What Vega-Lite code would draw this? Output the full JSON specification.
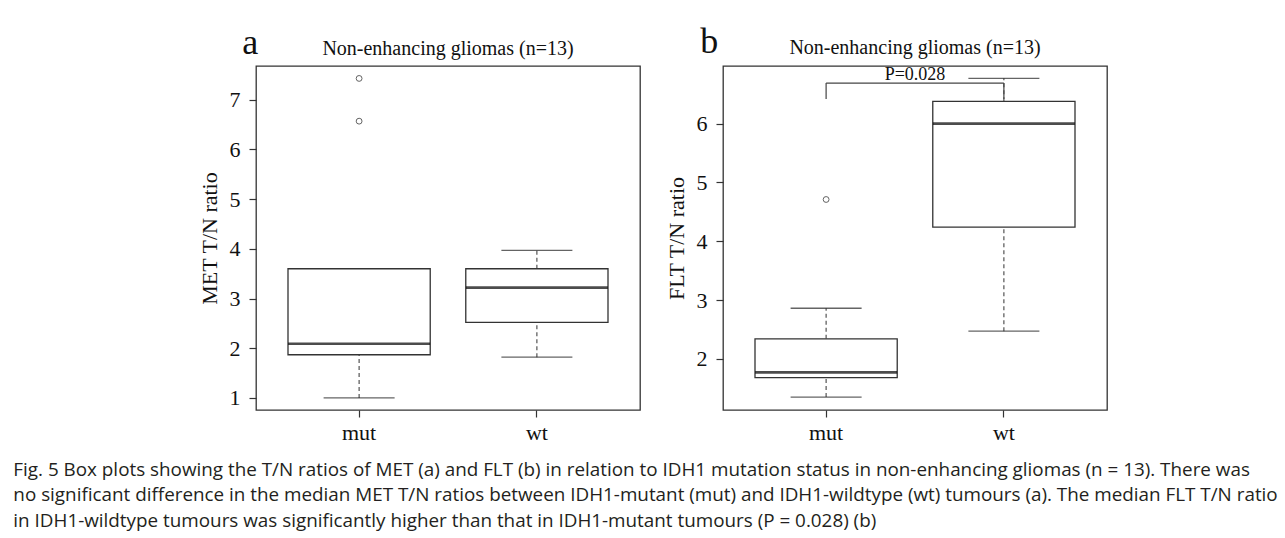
{
  "$schema": "https://vega.github.io/schema/vega-lite/v6.json",
  "background": "white",
  "padding": {"left": 13, "top": 23, "right": 0, "bottom": 12},
  "autosize": {"type": "pad"},
  "config": {
    "view": {"stroke": "#333", "strokeWidth": 1.3, "fill": "white"},
    "font": "Liberation Serif",
    "axis": {"domain": false, "grid": false, "tickColor": "#333", "tickSize": 7, "tickWidth": 1.2, "labelFont": "Liberation Serif", "labelFontSize": 22, "labelColor": "#111", "titleFont": "Liberation Serif", "titleFontSize": 22, "titleFontWeight": "normal", "titleColor": "#111", "labelPadding": 9, "titlePadding": 8},
    "title": {"font": "Liberation Serif", "fontSize": 20, "fontWeight": "normal", "color": "#111"}
  },
  "title": {
    "text": [
      "Fig. 5 Box plots showing the T/N ratios of MET (a) and FLT (b) in relation to IDH1 mutation status in non-enhancing gliomas (n = 13). There was",
      "no significant difference in the median MET T/N ratios between IDH1-mutant (mut) and IDH1-wildtype (wt) tumours (a). The median FLT T/N ratio",
      "in IDH1-wildtype tumours was significantly higher than that in IDH1-mutant tumours (P = 0.028) (b)"
    ],
    "orient": "bottom", "anchor": "start", "font": "Open Sans", "fontSize": 18.85, "fontWeight": "normal", "lineHeight": 25.5, "dx": -184, "offset": 17, "color": "#231f20"
  },
  "datasets": {
    "boxA": [
      {"grp": "mut", "lower": 1.0, "q1": 1.87, "median": 2.09, "q3": 3.6, "upper": 3.6},
      {"grp": "wt", "lower": 1.82, "q1": 2.52, "median": 3.22, "q3": 3.6, "upper": 3.97}
    ],
    "outA": [
      {"grp": "mut", "v": 7.43},
      {"grp": "mut", "v": 6.57}
    ],
    "boxB": [
      {"grp": "mut", "lower": 1.35, "q1": 1.68, "median": 1.77, "q3": 2.34, "upper": 2.86},
      {"grp": "wt", "lower": 2.47, "q1": 4.24, "median": 6.0, "q3": 6.38, "upper": 6.77}
    ],
    "outB": [
      {"grp": "mut", "v": 4.71}
    ],
    "bracket": [
      {"grp": "mut", "grp2": "wt", "lo": 6.42, "hi": 6.69}
    ],
    "pval": [
      {"grp": "wt", "y": 6.75, "label": "P=0.028"}
    ],
    "headA": [
      {"panel": "a", "title": "Non-enhancing gliomas (n=13)"}
    ],
    "headB": [
      {"panel": "b", "title": "Non-enhancing gliomas (n=13)"}
    ]
  },
  "spacing": 23,
  "hconcat": [
    {
      "width": 384, "height": 344,
      "encoding": {
        "x": {"field": "grp", "type": "nominal", "title": null, "scale": {"domain": ["mut", "wt"], "paddingInner": 0, "paddingOuter": 0.08}, "axis": {"labelAngle": 0, "labelPadding": 5}}
      },
      "layer": [
        {"data": {"name": "boxA"}, "mark": {"type": "rule", "strokeDash": [4, 3], "color": "#444", "strokeWidth": 1.1},
         "encoding": {"y": {"field": "lower", "type": "quantitative", "title": "MET T/N ratio", "scale": {"domain": [0.758, 7.68], "nice": false, "zero": false}, "axis": {"values": [1, 2, 3, 4, 5, 6, 7], "format": "d"}}, "y2": {"field": "q1"}}},
        {"data": {"name": "boxA"}, "mark": {"type": "rule", "strokeDash": [4, 3], "color": "#444", "strokeWidth": 1.1},
         "encoding": {"y": {"field": "q3", "type": "quantitative", "title": "MET T/N ratio"}, "y2": {"field": "upper"}}},
        {"data": {"name": "boxA"}, "mark": {"type": "tick", "size": 71, "thickness": 1.3, "color": "#222"},
         "encoding": {"y": {"field": "lower", "type": "quantitative", "title": "MET T/N ratio"}}},
        {"data": {"name": "boxA"}, "mark": {"type": "tick", "size": 71, "thickness": 1.3, "color": "#222"},
         "encoding": {"y": {"field": "upper", "type": "quantitative", "title": "MET T/N ratio"}}},
        {"data": {"name": "boxA"}, "mark": {"type": "bar", "width": {"band": 0.8}, "fill": "white", "stroke": "#333", "strokeWidth": 1.3},
         "encoding": {"y": {"field": "q1", "type": "quantitative", "title": "MET T/N ratio"}, "y2": {"field": "q3"}}},
        {"data": {"name": "boxA"}, "mark": {"type": "tick", "size": 142, "thickness": 2.6, "color": "#000"},
         "encoding": {"y": {"field": "median", "type": "quantitative", "title": "MET T/N ratio"}}},
        {"data": {"name": "outA"}, "mark": {"type": "point", "shape": "circle", "filled": false, "size": 34, "stroke": "#222", "strokeWidth": 1},
         "encoding": {"y": {"field": "v", "type": "quantitative", "title": "MET T/N ratio"}}},
        {"data": {"name": "headA"}, "mark": {"type": "text", "font": "Liberation Serif", "fontSize": 36, "align": "center", "baseline": "alphabetic", "dx": -20, "color": "#111", "clip": false},
         "encoding": {"x": {"datum": "mut", "bandPosition": 0}, "y": {"datum": 7.93, "type": "quantitative"}, "text": {"field": "panel"}}},
        {"data": {"name": "headA"}, "mark": {"type": "text", "font": "Liberation Serif", "fontSize": 20, "align": "center", "baseline": "alphabetic", "color": "#111", "clip": false},
         "encoding": {"x": {"datum": "wt", "bandPosition": 0}, "y": {"datum": 7.91, "type": "quantitative"}, "text": {"field": "title"}}}
      ]
    },
    {
      "width": 384, "height": 344,
      "encoding": {
        "x": {"field": "grp", "type": "nominal", "title": null, "scale": {"domain": ["mut", "wt"], "paddingInner": 0, "paddingOuter": 0.08}, "axis": {"labelAngle": 0, "labelPadding": 5}}
      },
      "layer": [
        {"data": {"name": "boxB"}, "mark": {"type": "rule", "strokeDash": [4, 3], "color": "#444", "strokeWidth": 1.1},
         "encoding": {"y": {"field": "lower", "type": "quantitative", "title": "FLT T/N ratio", "scale": {"domain": [1.13, 6.98], "nice": false, "zero": false}, "axis": {"values": [2, 3, 4, 5, 6], "format": "d"}}, "y2": {"field": "q1"}}},
        {"data": {"name": "boxB"}, "mark": {"type": "rule", "strokeDash": [4, 3], "color": "#444", "strokeWidth": 1.1},
         "encoding": {"y": {"field": "q3", "type": "quantitative", "title": "FLT T/N ratio"}, "y2": {"field": "upper"}}},
        {"data": {"name": "boxB"}, "mark": {"type": "tick", "size": 71, "thickness": 1.3, "color": "#222"},
         "encoding": {"y": {"field": "lower", "type": "quantitative", "title": "FLT T/N ratio"}}},
        {"data": {"name": "boxB"}, "mark": {"type": "tick", "size": 71, "thickness": 1.3, "color": "#222"},
         "encoding": {"y": {"field": "upper", "type": "quantitative", "title": "FLT T/N ratio"}}},
        {"data": {"name": "boxB"}, "mark": {"type": "bar", "width": {"band": 0.8}, "fill": "white", "stroke": "#333", "strokeWidth": 1.3},
         "encoding": {"y": {"field": "q1", "type": "quantitative", "title": "FLT T/N ratio"}, "y2": {"field": "q3"}}},
        {"data": {"name": "boxB"}, "mark": {"type": "tick", "size": 142, "thickness": 2.6, "color": "#000"},
         "encoding": {"y": {"field": "median", "type": "quantitative", "title": "FLT T/N ratio"}}},
        {"data": {"name": "outB"}, "mark": {"type": "point", "shape": "circle", "filled": false, "size": 34, "stroke": "#222", "strokeWidth": 1},
         "encoding": {"y": {"field": "v", "type": "quantitative", "title": "FLT T/N ratio"}}},
        {"data": {"name": "bracket"}, "mark": {"type": "rule", "color": "#444", "strokeWidth": 1.2},
         "encoding": {"x2": {"field": "grp2"}, "y": {"field": "hi", "type": "quantitative", "title": "FLT T/N ratio"}}},
        {"data": {"name": "bracket"}, "mark": {"type": "rule", "color": "#444", "strokeWidth": 1.2},
         "encoding": {"y": {"field": "lo", "type": "quantitative", "title": "FLT T/N ratio"}, "y2": {"field": "hi"}}},
        {"data": {"name": "bracket"}, "mark": {"type": "rule", "color": "#444", "strokeWidth": 1.2},
         "encoding": {"x": {"field": "grp2", "type": "nominal"}, "y": {"field": "lo", "type": "quantitative", "title": "FLT T/N ratio"}, "y2": {"field": "hi"}}},
        {"data": {"name": "pval"}, "mark": {"type": "text", "font": "Liberation Serif", "fontSize": 18, "align": "center", "baseline": "alphabetic", "color": "#111"},
         "encoding": {"x": {"field": "grp", "type": "nominal", "bandPosition": 0}, "y": {"field": "y", "type": "quantitative", "title": "FLT T/N ratio"}, "text": {"field": "label"}}},
        {"data": {"name": "headB"}, "mark": {"type": "text", "font": "Liberation Serif", "fontSize": 36, "align": "center", "baseline": "alphabetic", "dx": -28, "color": "#111", "clip": false},
         "encoding": {"x": {"datum": "mut", "bandPosition": 0}, "y": {"datum": 7.2, "type": "quantitative"}, "text": {"field": "panel"}}},
        {"data": {"name": "headB"}, "mark": {"type": "text", "font": "Liberation Serif", "fontSize": 20, "align": "center", "baseline": "alphabetic", "color": "#111", "clip": false},
         "encoding": {"x": {"datum": "wt", "bandPosition": 0}, "y": {"datum": 7.185, "type": "quantitative"}, "text": {"field": "title"}}}
      ]
    }
  ]
}
